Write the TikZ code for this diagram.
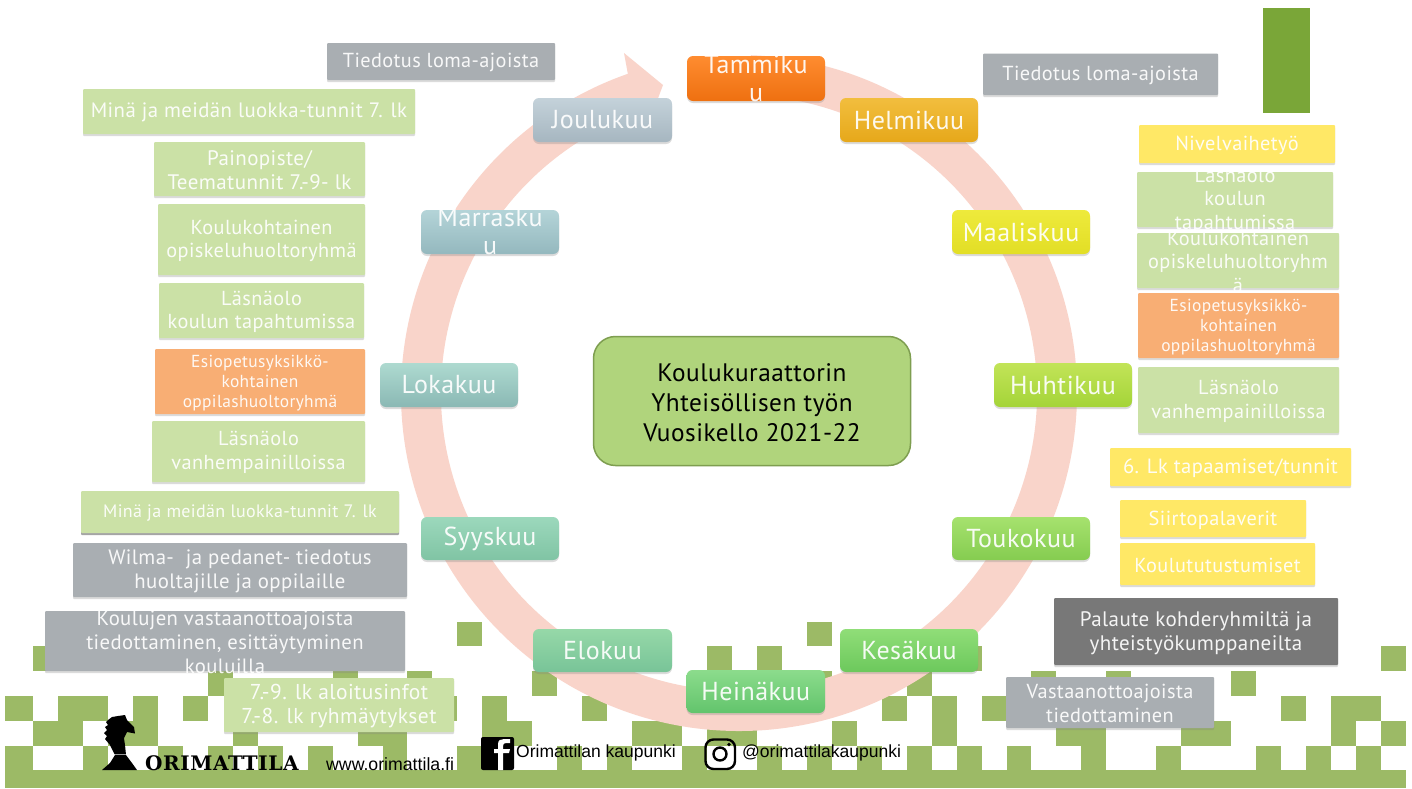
\documentclass[tikz,border=0pt]{standalone}
\usepackage{fontspec}
\setmainfont{PT Sans}[LetterSpace=2]
\newfontfamily\arialf{Liberation Sans}
\newfontfamily\slabf{DejaVu Serif}[LetterSpace=3]
\usetikzlibrary{shadows,calc}
\definecolor{cell}{HTML}{9CBA66}
\definecolor{ringc}{HTML}{F9D4CA}
\definecolor{lgreen}{HTML}{CBE1A6}
\definecolor{grayb}{HTML}{A9AEB2}
\definecolor{yellowb}{HTML}{FFE866}
\definecolor{orangeb}{HTML}{F8AE74}
\tikzset{
  x=1pt,y=-1pt,
  sh/.style={drop shadow={shadow xshift=0pt,shadow yshift=-2pt,opacity=.28}},
  note/.style={rectangle,rounded corners=1pt,sh},
  noteg/.style={note,fill=lgreen},
  noted/.style={rectangle,rounded corners=1pt,fill=lgreen,drop shadow={shadow xshift=0pt,shadow yshift=-2pt,opacity=.7}},
  notegray/.style={note,fill=grayb},
  notey/.style={note,fill=yellowb},
  noteo/.style={note,fill=orangeb},
  month/.style n args={2}{rectangle,rounded corners=6pt,sh,top color=#1,bottom color=#2,shading angle=0},
  txt/.style={inner sep=0pt,align=center,text=white,text opacity=.92},
}
\def\tsh{-1.3pt}
\newcommand\bx[9]{%
  \pgfmathsetmacro\bw{#4-#2}\pgfmathsetmacro\bh{#5-#3}%
  \pgfmathsetmacro\bcx{(#4+#2)/2}\pgfmathsetmacro\bcy{(#5+#3)/2}%
  \node[#6,minimum width=\bw pt,minimum height=\bh pt,inner sep=0pt,outer sep=0pt] (#1) at (\bcx,\bcy) {};
  \node[txt,yshift=\tsh,font=\fontsize{#7pt}{#8pt}\selectfont] (#1t) at (#1.center) {#9};
}
\newcommand\mon[8]{%
  \definecolor{mt}{HTML}{#6}\definecolor{mb}{HTML}{#7}%
  \def\tsh{0pt}%
  \bx{#1}{#2}{#3}{#4}{#5}{month={mt}{mb}}{26}{28}{#8}%
  \def\tsh{-1.3pt}%
}
\begin{document}
\begin{tikzpicture}
\useasboundingbox (0,0) rectangle (1412,788);
\fill[white] (0,0) rectangle (1412,788);
% background pattern
\foreach \r/\l in {0/{18,32},
  1/{1,28,30,38,55},
  2/{8,13,16,21,32,36,41,44,49},
  3/{0,2,3,5,7,17,19,23,35,37,39,51,53,54},
  4/{1,2,4,5,9,14,15,19,20,25,26,28,29,33,37,42,43,47,48,53,55},
  5/{0,3,6,8,10,12,15,18,19,22,24,27,30,32,34,36,38,40,43,46,50,52,54}}{
  \foreach \k in \l {
    \fill[cell] (8.1+24.96*\k,621.5+24.8*\r) rectangle ++(24.96,24.8);
  }
}
\fill[cell] (5,696) rectangle (9,720.5);
\fill[cell] (5,745.5) rectangle (9,770.5);
\fill[cell] (5,770) rectangle (1405.7,788);
% ring arrow
\coordinate (C) at (739,393);
\coordinate (barbA) at (624,53);
\coordinate (tipA) at (663,85);
\coordinate (barbB) at (645,133);
\fill[ringc] (C) ++(88:338pt) arc[start angle=88,end angle=-250.8,radius=338pt]
  -- (barbA) -- (tipA) -- (barbB) -- ($(C)+(109.2:298pt)$)
  arc[start angle=-250.8,end angle=88,radius=298pt] -- cycle;
% months
\mon{tam}{687}{56}{825}{101}{FF8C30}{EE7010}{Tammiku\\u}
\mon{hel}{840}{98}{978}{142}{F2BE3E}{E6A81A}{Helmikuu}
\mon{maa}{952}{210}{1090}{254}{EEEA3C}{E2DE25}{Maaliskuu}
\mon{huh}{994}{363}{1132}{407}{C2E458}{A4D438}{Huhtikuu}
\mon{tou}{952}{517}{1090}{560}{A6E26E}{85CC50}{Toukokuu}
\mon{kes}{840}{629}{978}{672}{90DE78}{6CC85C}{Kesäkuu}
\mon{hei}{686.5}{670}{825}{713}{8CDC8C}{62C46C}{Heinäkuu}
\mon{elo}{533}{629}{672}{672}{96D8A8}{78C498}{Elokuu}
\mon{syy}{421}{517}{559}{560}{9CD8BC}{80C4A4}{Syyskuu}
\mon{lok}{380}{363}{518}{407}{AEDAD0}{8AB8B4}{Lokakuu}
\mon{mar}{421}{210}{559}{254}{B4D4D8}{94B8BE}{Marrasku\\u}
\mon{jou}{533}{98}{672}{142}{C4D2DA}{A6B6C0}{Joulukuu}
% centre
\node[rectangle,rounded corners=22pt,fill={rgb,255:red,176;green,212;blue,124},draw={rgb,255:red,126;green,158;blue,80},line width=1.5pt,minimum width=317pt,minimum height=129pt,inner sep=0pt] (centre) at (752,401) {};
\node[inner sep=0pt,yshift=-1.5pt,align=center,text=black,font=\fontsize{25.3pt}{30pt}\selectfont] (centret) at (centre.center) {Koulukuraattorin\\Yhteisöllisen työn\\Vuosikello 2021-22};
% right column
\fill[fill={rgb,255:red,122;green,166;blue,56}] (1263,8) rectangle (1310,113);
\bx{rt}{983}{53.5}{1218}{95}{notegray}{20.3}{23.5}{Tiedotus loma-ajoista}
\bx{rn}{1139}{125}{1335}{163}{notey}{20.3}{23.5}{Nivelvaihetyö}
\bx{rl}{1137}{172}{1333}{227}{noteg}{20.3}{23.5}{Läsnäolo\\koulun\\tapahtumissa}
\bx{rk}{1137}{233}{1339}{288}{noteg}{20.3}{23.5}{Koulukohtainen\\opiskeluhuoltoryhm\\ä}
\bx{re}{1138}{293}{1339}{358}{noteo}{17.4}{20}{Esiopetusyksikkö-\\kohtainen\\oppilashuoltoryhmä}
\bx{rv}{1138}{367}{1339}{433}{noteg}{20.3}{24}{Läsnäolo\\vanhempainilloissa}
\bx{r6}{1110}{448}{1351}{486}{notey}{20.6}{23.5}{6. Lk tapaamiset/tunnit}
\bx{rs}{1120}{500}{1306}{537}{notey}{20.3}{23.5}{Siirtopalaverit}
\bx{ru}{1120}{543}{1315}{585}{notey}{20.3}{23.5}{Koulututustumiset}
\bx{rp}{1054}{598}{1338}{665}{note,fill={rgb,255:red,120;green,120;blue,120}}{21}{24}{Palaute kohderyhmiltä ja\\yhteistyökumppaneilta}
\bx{ra}{1006}{677}{1214}{728}{notegray}{20.3}{24}{Vastaanottoajoista\\tiedottaminen}
% left column
\bx{lt}{327}{43}{555}{80}{notegray}{20.3}{23.5}{Tiedotus loma-ajoista}
\bx{lm}{83}{89}{415}{134}{noteg}{20.8}{23.5}{Minä ja meidän luokka-tunnit 7. lk}
\bx{lp}{154}{142}{365}{196}{noteg}{21}{23.5}{Painopiste/\\Teematunnit 7.-9- lk}
\bx{lk}{158}{204}{365}{275}{noteg}{20.3}{23.5}{Koulukohtainen\\opiskeluhuoltoryhmä}
\bx{ll}{159}{283}{364}{338}{noteg}{20.3}{23.5}{Läsnäolo\\koulun tapahtumissa}
\bx{le}{155}{349}{365}{414}{noteo}{17.4}{20}{Esiopetusyksikkö-\\kohtainen\\oppilashuoltoryhmä}
\bx{lv}{152}{421}{365}{482}{noteg}{20.3}{24}{Läsnäolo\\vanhempainilloissa}
\bx{lm2}{81}{491}{399}{533}{noted}{18}{20}{Minä ja meidän luokka-tunnit 7. lk}
\bx{lw}{73}{543}{407}{597}{notegray}{20.8}{24}{Wilma-\ \ ja pedanet- tiedotus\\huoltajille ja oppilaille}
\bx{lu}{45}{611}{405}{671}{notegray}{20.7}{24}{Koulujen vastaanottoajoista\\tiedottaminen, esittäytyminen\\kouluilla}
\bx{la}{224}{678}{454}{732}{noteg}{21.5}{24}{7.-9. lk aloitusinfot\\7.-8. lk ryhmäytykset}
% logo: knight
\fill[black] (102,770) -- (137,770) -- (132,763) -- (126,755) -- (125,745) -- (124,738) -- (127,732) -- (135,733.5) -- (134,727) -- (127,720) -- (125,715) -- (118,716) -- (112,717) -- (108,720) -- (106,722) -- (108,725) -- (105,727) -- (107,730) -- (104,733) -- (107,736) -- (105,739) -- (110,745) -- (115,755) -- (110,763) -- cycle;
\draw[white,opacity=.6,line width=.5pt] (112,754) -- (127,754);
\node[inner sep=0pt,anchor=west,text=black,font=\slabf\bfseries\fontsize{20pt}{22pt}\selectfont] (logo) at (145,763) {ORIMATTILA};
\node[inner sep=0pt,anchor=west,text=black,font=\arialf\fontsize{17.7pt}{20pt}\selectfont] (web) at (326,764) {www.orimattila.fi};
% facebook icon
\fill[black,rounded corners=2pt] (481,737) rectangle (514,770);
\fill[white] (498,770) -- (498,753) -- (494,753) -- (494,749) -- (498,749) -- (498,744) .. controls (498,740) and (501,739) .. (504,739) -- (510,739) -- (510,743) -- (506,743) .. controls (504,743) and (503,744) .. (503,746) -- (503,749) -- (510,749) -- (509,753) -- (503,753) -- (503,770) -- cycle;
\node[inner sep=0pt,anchor=west,text=black,font=\arialf\fontsize{17.5pt}{20pt}\selectfont] (fb) at (516,753) {Orimattilan kaupunki};
% instagram icon
\draw[black,line width=2.4pt,rounded corners=8pt] (705.5,739.5) rectangle (735,769);
\draw[black,line width=2.4pt] (720,754) circle[radius=6.5pt];
\fill[black] (729,744.5) circle[radius=1.8pt];
\node[inner sep=0pt,anchor=west,text=black,font=\arialf\fontsize{17.5pt}{20pt}\selectfont] (ig) at (742,753) {@orimattilakaupunki};
\end{tikzpicture}
\end{document}
